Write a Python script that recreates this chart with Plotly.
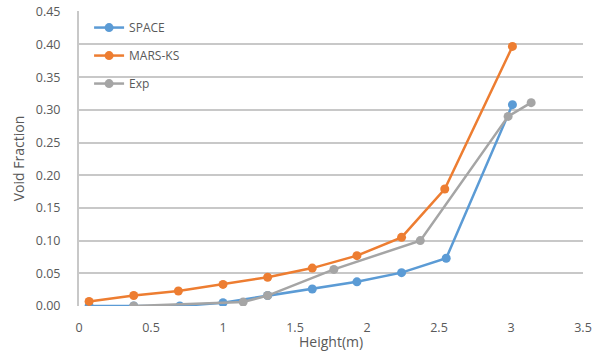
import plotly.graph_objects as go

space_x = [0.07, 0.38, 0.70, 1.00, 1.31, 1.62, 1.93, 2.24, 2.55, 3.01]
space_y = [0.000, 0.000, 0.000, 0.005, 0.016, 0.026, 0.037, 0.051, 0.073, 0.308]

mars_x = [0.07, 0.38, 0.69, 1.00, 1.31, 1.62, 1.93, 2.24, 2.54, 3.01]
mars_y = [0.007, 0.016, 0.023, 0.033, 0.044, 0.058, 0.077, 0.105, 0.179, 0.397]

exp_x = [0.38, 1.14, 1.31, 1.77, 2.37, 2.98, 3.14]
exp_y = [0.000, 0.006, 0.016, 0.056, 0.100, 0.290, 0.311]

x_ticks = [0, 0.5, 1, 1.5, 2, 2.5, 3, 3.5]
x_labels = ["0", "0.5", "1", "1.5", "2", "2.5", "3", "3.5"]
y_ticks = [0, 0.05, 0.10, 0.15, 0.20, 0.25, 0.30, 0.35, 0.40, 0.45]
y_labels = ["0.00", "0.05", "0.10", "0.15", "0.20", "0.25", "0.30", "0.35", "0.40", "0.45"]

series = [
    ("SPACE", space_x, space_y, "#5b9bd5"),
    ("MARS-KS", mars_x, mars_y, "#ed7d31"),
    ("Exp", exp_x, exp_y, "#a5a5a5"),
]

fig = go.Figure()
for name, xs, ys, col in series:
    fig.add_trace(go.Scatter(
        x=xs, y=ys, name=name, mode="lines+markers",
        line=dict(color=col, width=2.5),
        marker=dict(color=col, size=9),
        legendgroup=name,
    ))

font = "Open Sans, Liberation Sans, sans-serif"
fig.update_layout(
    template="none",
    width=603, height=356,
    margin=dict(l=79, r=20, t=11, b=50, autoexpand=False),
    paper_bgcolor="white", plot_bgcolor="white",
    font=dict(family=font, size=12, color="#595959"),
    showlegend=True,
    legend=dict(x=0.02, y=0.993, xanchor="left", yanchor="top",
                bgcolor="rgba(255,255,255,0)", tracegroupgap=9,
                font=dict(size=12, color="#595959")),
    xaxis=dict(range=[0, 3.5], tickmode="array", tickvals=x_ticks, ticktext=x_labels,
               showgrid=False, zeroline=False, showline=False, automargin=False,
               ticks="outside", ticklen=10, tickcolor="rgba(0,0,0,0)",
               tickfont=dict(size=12.5), ticklabeloverflow="allow"),
    yaxis=dict(range=[0, 0.4512], tickmode="array", tickvals=y_ticks, ticktext=y_labels,
               showgrid=True, gridcolor="#c8c8c8", gridwidth=2,
               zeroline=False, showline=True, linecolor="#c8c8c8", linewidth=2,
               mirror=False, automargin=False,
               ticks="outside", ticklen=14, tickcolor="rgba(0,0,0,0)",
               tickfont=dict(size=12.5), ticklabeloverflow="allow",
               title=dict(text="Void Fraction", font=dict(size=14, color="#595959"), standoff=8)),
    annotations=[dict(text="Height(m)", xref="paper", yref="paper", x=0.5, y=-0.122,
                      xanchor="center", yanchor="middle", showarrow=False,
                      font=dict(size=14, color="#595959"))],
)

fig.write_html("out.html", config={"displayModeBar": False},
               post_script="document.body.style.margin='0';")
